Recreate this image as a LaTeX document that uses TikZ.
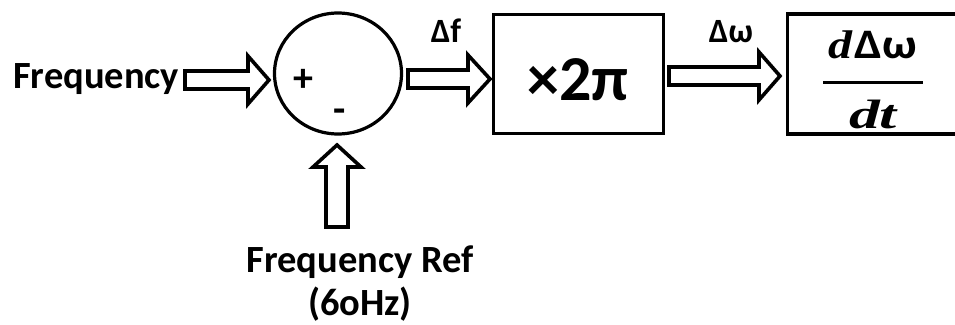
\documentclass[tikz,border=0pt]{standalone}
\usepackage{fontspec}
\setmainfont{Carlito}
\newfontfamily\mathserif{Liberation Serif}
\usetikzlibrary{calc,shapes.geometric}
\tikzset{
  blk/.style={draw=black,line width=3.2pt,fill=white,inner sep=0pt},
  barrow/.style={draw=black,line width=3.6pt,fill=white,line join=miter},
  lbl/.style={inner sep=0pt,font=\bfseries\fontsize{38.5}{42}\selectfont},
  sgn/.style={inner sep=0pt,font=\bfseries\fontsize{40}{42}\selectfont},
  dlbl/.style={inner sep=0pt,font=\bfseries\fontsize{34}{36}\selectfont},
}
% horizontal block arrow: #1 tail x, #2 head base x, #3 tip x, #4 y
\newcommand{\hblockarrow}[4]{%
  \draw[barrow] (#1,#4-9) -- (#2,#4-9) -- (#2,#4-24) -- (#3,#4) -- (#2,#4+24) -- (#2,#4+9) -- (#1,#4+9) -- cycle;}
\begin{document}
\begin{tikzpicture}[x=1pt,y=-1pt]
\useasboundingbox (0,0) rectangle (955,324);
% blocks
\node[blk,ellipse,minimum width=127pt,minimum height=121pt] (sum) at (338,73.5) {};
\node[blk,rectangle,minimum width=170pt,minimum height=119pt] (gain) at (578.5,74) {};
\node[inner sep=0pt,anchor=base,font=\bfseries\fontsize{64}{66}\selectfont] (gaintxt) at (578,100) {×2π};
\node[blk,rectangle,minimum width=180pt,minimum height=120pt] (deriv) at (877.5,74) {};
% signs
\node[sgn] (plus) at (303,80) {+};
\node[sgn] (minus) at (340,116) {-};
% inputs
\node[lbl,anchor=base west] (freq) at (13,88) {Frequency};
\node[lbl,anchor=base] (fref) at (360,272) {Frequency Ref};
\node[lbl,anchor=base] (fref2) at (360,315) {(6oHz)};
% connectors (block arrows)
\hblockarrow{185}{248}{269}{80}
\hblockarrow{408}{468}{490}{79}
\hblockarrow{669}{759}{780}{76}
\draw[barrow] (326,227) -- (326,167) -- (313,167) -- (337,145) -- (361,167) -- (348,167) -- (348,227) -- cycle;
% labels
\node[dlbl,anchor=base] (df) at (446,42) {Δf};
\node[dlbl,anchor=base] (dw) at (731,42) {Δω};
% fraction
\node[inner sep=0pt,anchor=base] (num) at (873,58) {\scalebox{1.2}[1]{\fontsize{40}{42}\selectfont\mathserif\bfseries\itshape d}\,\scalebox{1.15}[1]{\bfseries\fontsize{42}{44}\selectfont Δω}};
\draw[line width=3pt] (823,82) coordinate (b1) -- (923,82) coordinate (b2);
\node[inner sep=0pt,anchor=base] (den) at (873,128) {\scalebox{1.5}[1]{\fontsize{41}{43}\selectfont\mathserif\bfseries\itshape dt}};
\end{tikzpicture}
\end{document}
